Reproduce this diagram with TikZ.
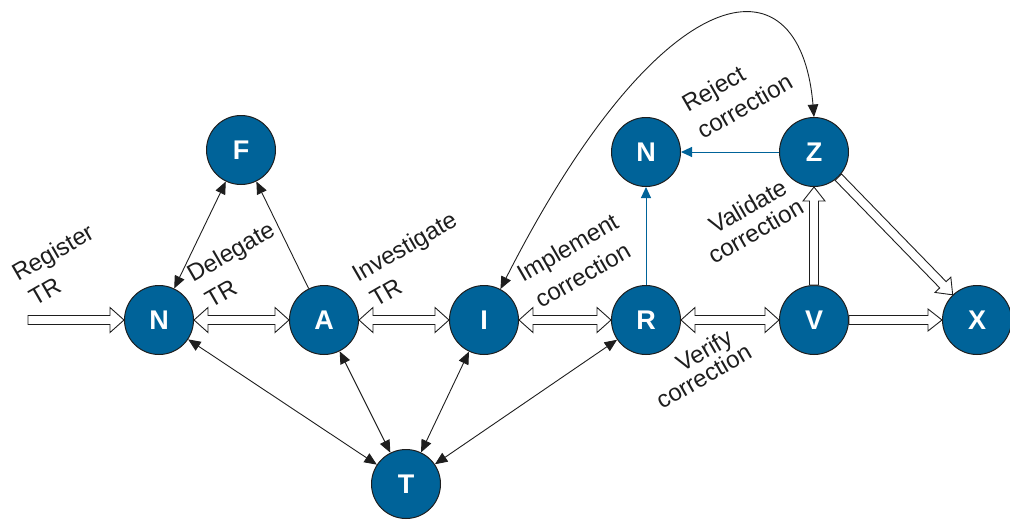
\documentclass[tikz,border=0pt]{standalone}
\usepackage{fontspec}
\setmainfont{Liberation Sans}
\usetikzlibrary{calc,arrows.meta}
\definecolor{nodeblue}{RGB}{0,99,153}
\definecolor{inkgray}{RGB}{30,30,30}
% #1 start, #2 end, #3 head half-width
\newcommand\singleblock[3]{%
  \draw[blk] ($(#1)!4.5pt!90:(#2)$) -- ($(#1)!4.5pt!-90:(#2)$)
   -- ($(#2)!14pt!(#1)!4.5pt!90:(#1)$) -- ($(#2)!14pt!(#1)!#3!90:(#1)$)
   -- (#2) -- ($(#2)!14pt!(#1)!#3!-90:(#1)$) -- ($(#2)!14pt!(#1)!4.5pt!-90:(#1)$) -- cycle;}
\newcommand\doubleblock[3]{%
  \draw[blk] ($(#1)!14pt!(#2)!4.5pt!90:(#2)$) -- ($(#1)!14pt!(#2)!#3!90:(#2)$) -- (#1)
   -- ($(#1)!14pt!(#2)!#3!-90:(#2)$) -- ($(#1)!14pt!(#2)!4.5pt!-90:(#2)$)
   -- ($(#2)!14pt!(#1)!4.5pt!90:(#1)$) -- ($(#2)!14pt!(#1)!#3!90:(#1)$) -- (#2)
   -- ($(#2)!14pt!(#1)!#3!-90:(#1)$) -- ($(#2)!14pt!(#1)!4.5pt!-90:(#1)$) -- cycle;}
\begin{document}
\begin{tikzpicture}[x=1pt,y=-1pt,
  state/.style={circle, fill=nodeblue, draw=inkgray, line width=1pt, minimum size=69pt, inner sep=0pt,
    text=white, font=\fontsize{27}{30}\selectfont\bfseries},
  lbl/.style={rotate=30, anchor=base west, inner sep=0pt, text=inkgray, font=\fontsize{24}{29}\selectfont},
  blk/.style={draw=inkgray, fill=white, line width=0.9pt, line join=miter},
  thinarr/.style={draw=inkgray, line width=0.9pt, {Triangle[length=12.5pt,width=10.5pt]}-{Triangle[length=12.5pt,width=10.5pt]}},
  onearr/.style={draw=inkgray, line width=0.9pt, -{Triangle[length=12.5pt,width=10.5pt]}},
  bluearr/.style={draw=nodeblue, line width=1pt, -{Triangle[length=11pt,width=10pt]}}]
\useasboundingbox (0,0) rectangle (1010,520);
% nodes
\node[state] (N1) at (159,320) {N};
\node[state] (A) at (324,320) {A};
\node[state] (I) at (484,320) {I};
\node[state] (R) at (646,320) {R};
\node[state] (V) at (814,320) {V};
\node[state] (X) at (977,320) {X};
\node[state] (F) at (241,150) {F};
\node[state] (N2) at (646,152) {N};
\node[state] (Z) at (814,152) {Z};
\node[state] (T) at (406,484) {T};
\coordinate (regstart) at (28,320);
% block arrows
\singleblock{regstart}{N1.west}{12.5pt}
\doubleblock{N1.east}{A.west}{12.5pt}
\doubleblock{A.east}{I.west}{12.5pt}
\doubleblock{I.east}{R.west}{12.5pt}
\doubleblock{R.east}{V.west}{12.5pt}
\singleblock{V.east}{X.west}{11pt}
\singleblock{V.north}{Z.south}{11pt}
\singleblock{Z.-46}{X.134}{11pt}
% thin arrows
\draw[thinarr] (N1) -- (F);
\draw[onearr] (A) -- (F);
\draw[thinarr] (N1) -- (T);
\draw[thinarr] (A) -- (T);
\draw[thinarr] (I) -- (T);
\draw[thinarr] (R) -- (T);
\draw[thinarr] (I.62) .. controls (660,-25) and (800,-50) .. (Z.north);
% blue arrows
\draw[bluearr] (R) -- (N2);
\draw[bluearr] (Z) -- (N2);
% labels
\node[lbl] (lreg1) at (18,282) {Register};
\node[lbl] (lreg2) at (35,307) {TR};
\node[lbl] (ldel1) at (193,283) {Delegate};
\node[lbl] (ldel2) at (211,309) {TR};
\node[lbl] (linv1) at (358,283) {Investigate};
\node[lbl] (linv2) at (376,308) {TR};
\node[lbl] (limp1) at (523,283) {Implement};
\node[lbl] (limp2) at (541,309) {correction};
\node[lbl] (lrej1) at (688,113) {Reject};
\node[lbl] (lrej2) at (703,140) {correction};
\node[lbl] (lval1) at (715,235) {Validate};
\node[lbl] (lval2) at (714,265) {correction};
\node[lbl] (lver1) at (682,373) {Verify};
\node[lbl] (lver2) at (662,410) {correction};
\end{tikzpicture}
\end{document}
